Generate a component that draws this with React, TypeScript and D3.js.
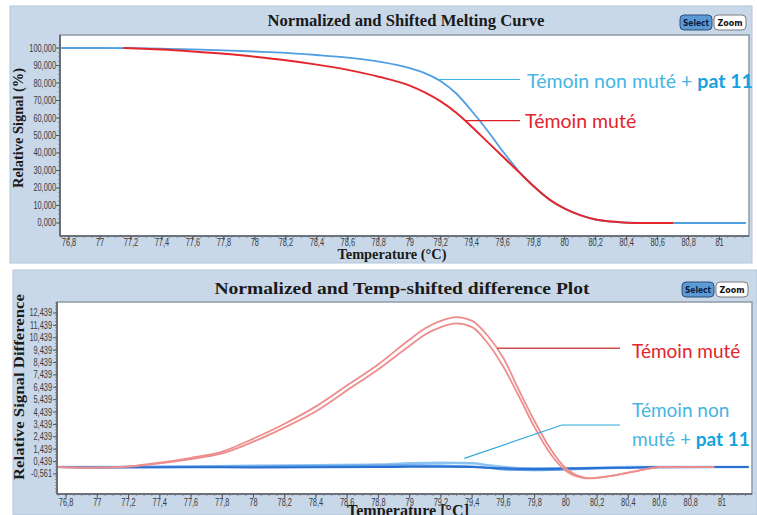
import React from "react";
import * as d3 from "d3";

// ---------- data ----------
const meltBlueTemp = [76.75, 77.0, 77.2, 77.4, 77.6, 77.8, 78.0, 78.2, 78.4, 78.6, 78.8, 79.0, 79.1, 79.2, 79.3, 79.4, 79.5, 79.6, 79.7, 79.8, 79.9, 80.0, 80.1, 80.2, 80.3, 80.4, 80.6, 80.8, 81.0, 81.17];
const meltBlueSignal = [100, 100, 99.9, 99.6, 99.2, 98.7, 98.0, 97.2, 96.0, 94.5, 92.2, 88.5, 85.5, 81, 74, 64, 53, 41, 30, 21, 13.5, 8.3, 4.5, 2, 0.8, 0.2, 0, 0, 0, 0];
const meltRedTemp = [77.15, 77.2, 77.4, 77.6, 77.8, 78.0, 78.2, 78.4, 78.6, 78.8, 79.0, 79.1, 79.2, 79.3, 79.4, 79.5, 79.6, 79.7, 79.8, 79.9, 80.0, 80.1, 80.2, 80.3, 80.4, 80.5, 80.7];
const meltRedSignal = [100, 99.8, 99.1, 98.0, 96.7, 95.0, 93.0, 90.5, 87.5, 83.6, 78.5, 74.5, 69.5, 63, 55, 46.5, 38, 29.5, 21, 13.5, 8.2, 4.5, 2, 0.8, 0.2, 0, 0];

const diffRedTemp = [76.75, 77.0, 77.2, 77.4, 77.6, 77.8, 78.0, 78.2, 78.4, 78.6, 78.8, 79.0, 79.1, 79.2, 79.3, 79.4, 79.5, 79.6, 79.7, 79.8, 79.9, 80.0, 80.1, 80.15, 80.2, 80.3, 80.4, 80.5, 80.6, 80.8, 80.95];
const diffRedA = [0, -0.05, 0.05, 0.35, 0.75, 1.25, 2.3, 3.5, 4.9, 6.6, 8.3, 10.3, 11.2, 11.8, 12.1, 11.8, 10.6, 8.8, 6.2, 3.7, 1.5, -0.1, -0.8, -0.9, -0.85, -0.7, -0.45, -0.2, 0, 0, 0];
const diffRedB = [0, -0.05, 0.03, 0.3, 0.65, 1.1, 2.05, 3.2, 4.5, 6.2, 7.9, 9.8, 10.7, 11.3, 11.6, 11.3, 10.0, 8.1, 5.7, 3.2, 1.1, -0.3, -0.85, -0.92, -0.88, -0.7, -0.45, -0.2, 0, 0, 0];

const diffBlueTemp = [76.75, 77.0, 77.2, 77.6, 78.0, 78.4, 78.8, 79.0, 79.2, 79.4, 79.5, 79.6, 79.8, 80.0, 80.2, 80.4, 80.6, 81.0, 81.17];
const diffBlueA = [0, -0.05, -0.03, -0.02, -0.03, -0.02, 0.0, 0.02, 0.03, 0.0, -0.05, -0.1, -0.15, -0.12, -0.08, -0.05, -0.02, 0, 0];
const diffBlueB = [0, 0, 0.02, 0.05, 0.1, 0.15, 0.2, 0.3, 0.35, 0.3, 0.15, 0.0, -0.1, -0.1, -0.05, 0, 0, 0, 0];
const diffBlueC = [0, 0, 0, 0.02, 0.05, 0.08, 0.12, 0.15, 0.12, 0.05, -0.05, -0.2, -0.25, -0.2, -0.12, -0.05, 0, 0, 0];

const tempTicks = [76.8, 77, 77.2, 77.4, 77.6, 77.8, 78, 78.2, 78.4, 78.6, 78.8, 79, 79.2, 79.4, 79.6, 79.8, 80, 80.2, 80.4, 80.6, 80.8, 81];
const meltYTicks = [0, 10, 20, 30, 40, 50, 60, 70, 80, 90, 100];
const diffYTicks = [-0.561, 0.439, 1.439, 2.439, 3.439, 4.439, 5.439, 6.439, 7.439, 8.439, 9.439, 10.439, 11.439, 12.439];

const topTitle = "Normalized and Shifted Melting Curve";
const bottomTitle = "Normalized and Temp-shifted difference Plot";
const topYLabel = "Relative Signal (%)";
const bottomYLabel = "Relative Signal Difference";
const topXLabel = "Temperature (°C)";
const bottomXLabel = "Temperature [°C]";
const labelMuted = "Témoin muté";
const labelNonMuted = "Témoin non muté + ";
const labelNonMuted1 = "Témoin non";
const labelNonMuted2 = "muté + ";
const labelPat = "pat 11";

// ---------- helpers ----------
const W = 757;
const H = 515;
const comma3 = (v: number) => d3.format(".3f")(v).replace(".", ",").replace("−", "-");
const commaT = (v: number) => String(+v.toFixed(1)).replace(".", ",");
const zip = (xs: number[], ys: number[]) => xs.map((x, i) => [x, ys[i]] as [number, number]);

const tickFont = "'Liberation Sans', Arial, sans-serif";
const serif = "'Liberation Serif', 'DejaVu Serif', serif";
const legendFont = "Lato, 'Open Sans', sans-serif";

function Buttons({ x, y }: { x: number; y: number }) {
  return (
    <g>
      <rect x={x} y={y} width={32} height={15} rx={4} fill="#5c9ad6" stroke="#2b4f78" strokeWidth={1} />
      <text x={x + 16} y={y + 11} textAnchor="middle" fontFamily="'DejaVu Sans', sans-serif" fontWeight="bold" fontSize={8.5} fill="#0b1b3c" textLength={26} lengthAdjust="spacingAndGlyphs">Select</text>
      <rect x={x + 34} y={y} width={32} height={15} rx={4} fill="#ffffff" stroke="#7a7a7a" strokeWidth={1} />
      <text x={x + 50} y={y + 11} textAnchor="middle" fontFamily="'DejaVu Sans', sans-serif" fontWeight="bold" fontSize={8.5} fill="#111" textLength={25} lengthAdjust="spacingAndGlyphs">Zoom</text>
    </g>
  );
}

type Plot = { l: number; t: number; r: number; b: number };

function Axes({ p, x, y, yTicks, yFmt, yMinor, xLabelY, labelRight }: {
  p: Plot; x: d3.ScaleLinear<number, number>; y: d3.ScaleLinear<number, number>;
  yTicks: number[]; yFmt: (v: number) => string; yMinor: number[]; xLabelY: number; labelRight: number;
}) {
  const xMinor = d3.range(76.75, 81.19, 0.05);
  return (
    <g>
      <rect x={p.l} y={p.t} width={p.r - p.l} height={p.b - p.t} fill="#ffffff" stroke="#8e99a6" strokeWidth={1.5} />
      <line x1={p.l} x2={p.l} y1={p.t} y2={p.b} stroke="#5a5f66" strokeWidth={1.6} />
      <line x1={p.l} x2={p.r} y1={p.b} y2={p.b} stroke="#5a5f66" strokeWidth={1.6} />
      {yMinor.map((v, i) => (
        <line key={"ym" + i} x1={p.l - 2} x2={p.l} y1={y(v)} y2={y(v)} stroke="#777" strokeWidth={0.8} />
      ))}
      {xMinor.map((v, i) => (
        <line key={"xm" + i} x1={x(v)} x2={x(v)} y1={p.b} y2={p.b + 2} stroke="#777" strokeWidth={0.8} />
      ))}
      {yTicks.map((v, i) => (
        <g key={"yt" + i}>
          <line x1={p.l - 4} x2={p.l} y1={y(v)} y2={y(v)} stroke="#555" strokeWidth={1} />
          <text transform={`translate(${labelRight},${y(v) + 3.5}) scale(0.74,1)`} textAnchor="end" fontFamily={tickFont} fontSize={10} fill="#3a3a3a">{yFmt(v)}</text>
        </g>
      ))}
      {tempTicks.map((v, i) => (
        <g key={"xt" + i}>
          <line x1={x(v)} x2={x(v)} y1={p.b} y2={p.b + 4} stroke="#555" strokeWidth={1} />
          <text transform={`translate(${x(v)},${xLabelY}) scale(0.74,1)`} textAnchor="middle" fontFamily={tickFont} fontSize={10} fill="#3a3a3a">{commaT(v)}</text>
        </g>
      ))}
    </g>
  );
}

export default function App() {
  // top panel
  const pt: Plot = { l: 60, t: 35, r: 749, b: 236 };
  const xT = d3.scaleLinear().domain([76.742, 81.19]).range([pt.l, pt.r]);
  const yT = d3.scaleLinear().domain([-7.43, 107.43]).range([pt.b, pt.t]);
  const lineT = d3.line<[number, number]>().x(d => xT(d[0])).y(d => yT(d[1])).curve(d3.curveMonotoneX);

  // bottom panel
  const pb: Plot = { l: 57, t: 302, r: 752, b: 494 };
  const xB = d3.scaleLinear().domain([76.742, 81.192]).range([pb.l, pb.r]);
  const yB = d3.scaleLinear().domain([-2.176, 13.327]).range([pb.b, pb.t]);
  const lineB = d3.line<[number, number]>().x(d => xB(d[0])).y(d => yB(d[1])).curve(d3.curveMonotoneX);

  // callout anchors (data space)
  const cBlueT = { x: xT(79.17), y: yT(82) };
  const cRedT = { x: xT(79.36), y: yT(58.5) };
  const cRedB = { x: xB(79.56), y: yB(9.6) };
  const cBlueB = { x: xB(79.35), y: yB(0.7) };

  return (
    <svg width={W} height={H} viewBox={`0 0 ${W} ${H}`} style={{ position: "absolute", left: 0, top: 0, background: "#fff" }}>
      <defs>
        <clipPath id="clipT"><rect x={pt.l} y={pt.t} width={pt.r - pt.l} height={pt.b - pt.t} /></clipPath>
        <clipPath id="clipB"><rect x={pb.l} y={pb.t} width={pb.r - pb.l} height={pb.b - pb.t} /></clipPath>
      </defs>
      <rect x={0} y={0} width={W} height={H} fill="#ffffff" />

      {/* ---------------- TOP PANEL ---------------- */}
      <rect x={10} y={6} width={742} height={257} fill="#c8d8e9" stroke="#b4c6da" strokeWidth={1} />
      <text x={406} y={26} textAnchor="middle" fontFamily={serif} fontWeight="bold" fontSize={16} fill="#1a1a1a" textLength={277} lengthAdjust="spacingAndGlyphs">{topTitle}</text>
      <Buttons x={680} y={15} />
      <Axes p={pt} x={xT} y={yT} yTicks={meltYTicks} yFmt={comma3} yMinor={d3.range(0, 101, 2.5)} xLabelY={246} labelRight={56} />
      <g clipPath="url(#clipT)" fill="none">
        <path d={lineT(zip(meltBlueTemp, meltBlueSignal)) || ""} stroke="#4f9fe2" strokeWidth={1.8} />
        <path d={lineT(zip(meltRedTemp, meltRedSignal)) || ""} stroke="#e3272d" strokeWidth={2} />
      </g>
      <text transform={`translate(23,${128}) rotate(-90)`} textAnchor="middle" fontFamily={serif} fontWeight="bold" fontSize={14} fill="#1a1a1a" textLength={120} lengthAdjust="spacingAndGlyphs">{topYLabel}</text>
      <text x={392} y={259} textAnchor="middle" fontFamily={serif} fontWeight="bold" fontSize={14} fill="#1a1a1a" textLength={109} lengthAdjust="spacingAndGlyphs">{topXLabel}</text>

      {/* callouts top */}
      <line x1={cBlueT.x} y1={cBlueT.y} x2={520} y2={cBlueT.y} stroke="#3ab4e2" strokeWidth={1.2} />
      <text x={527} y={88} fontFamily={legendFont} fontSize={19.5} fill="#45b5e3">
        {labelNonMuted}<tspan fontWeight="bold" fill="#16a2e0">{labelPat}</tspan>
      </text>
      <line x1={cRedT.x} y1={cRedT.y} x2={520} y2={cRedT.y} stroke="#de1f26" strokeWidth={1.2} />
      <text x={525} y={128} fontFamily={legendFont} fontSize={19.5} fill="#e2242b">{labelMuted}</text>

      {/* ---------------- BOTTOM PANEL ---------------- */}
      <rect x={13} y={270} width={744} height={245} fill="#c8d8e9" stroke="#b4c6da" strokeWidth={1} />
      <text x={402} y={294} textAnchor="middle" fontFamily={serif} fontWeight="bold" fontSize={17} fill="#1a1a1a" textLength={375} lengthAdjust="spacingAndGlyphs">{bottomTitle}</text>
      <Buttons x={682} y={282} />
      <Axes p={pb} x={xB} y={yB} yTicks={diffYTicks} yFmt={comma3} yMinor={d3.range(-2, 13.3, 0.25)} xLabelY={506} labelRight={52} />
      <g clipPath="url(#clipB)" fill="none">
        <path d={lineB(zip(diffBlueTemp, diffBlueB)) || ""} stroke="#8cc2ef" strokeWidth={2.5} />
        <path d={lineB(zip(diffBlueTemp, diffBlueC)) || ""} stroke="#5d9fe6" strokeWidth={2} />
        <path d={lineB(zip(diffBlueTemp, diffBlueA)) || ""} stroke="#2a6fd2" strokeWidth={2} />
        <path d={lineB(zip(diffRedTemp, diffRedA)) || ""} stroke="#ee8d8d" strokeWidth={1.8} />
        <path d={lineB(zip(diffRedTemp, diffRedB)) || ""} stroke="#ee8d8d" strokeWidth={1.8} />
      </g>
      <text transform={`translate(24,${387}) rotate(-90)`} textAnchor="middle" fontFamily={serif} fontWeight="bold" fontSize={15} fill="#1a1a1a" textLength={186} lengthAdjust="spacingAndGlyphs">{bottomYLabel}</text>
      <text x={408} y={516} textAnchor="middle" fontFamily={serif} fontWeight="bold" fontSize={16} fill="#1a1a1a" textLength={122} lengthAdjust="spacingAndGlyphs">{bottomXLabel}</text>

      {/* callouts bottom */}
      <line x1={cRedB.x} y1={cRedB.y} x2={620} y2={cRedB.y} stroke="#c9504f" strokeWidth={1.5} />
      <text x={632} y={358} fontFamily={legendFont} fontSize={19} fill="#e2242b">{labelMuted}</text>
      <polyline points={`${cBlueB.x},${cBlueB.y} 562,425 620,425`} fill="none" stroke="#2fa9dc" strokeWidth={1.2} />
      <text x={632} y={417} fontFamily={legendFont} fontSize={19} fill="#45b5e3">{labelNonMuted1}</text>
      <text x={632} y={446} fontFamily={legendFont} fontSize={19} fill="#45b5e3">
        {labelNonMuted2}<tspan fontWeight="bold" fill="#16a2e0">{labelPat}</tspan>
      </text>
    </svg>
  );
}
